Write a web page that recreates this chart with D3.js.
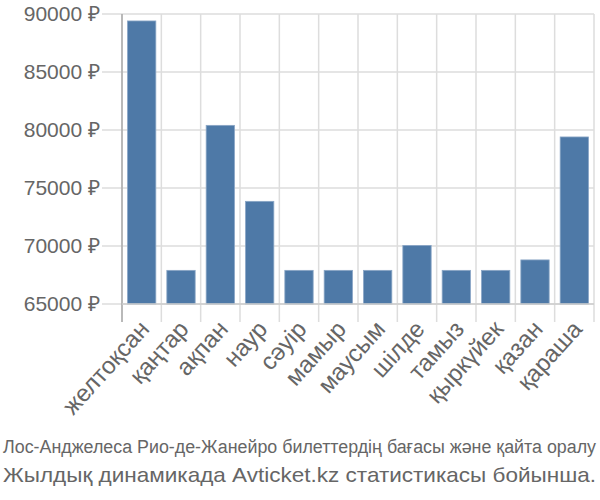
<!DOCTYPE html>
<html>
<head>
  <meta charset="utf-8">
  <script src="https://d3js.org/d3.v7.min.js"></script>
  <style>
    body { margin: 0; background: #fff; }
    svg { font-family: "Liberation Sans", Arial, sans-serif; }
    .tick text { fill: #666; }
    .caption { fill: #666; }
  </style>
</head>
<body>
  <svg id="chart"></svg>

  <script>
    // Data
    const months = ["желтоқсан", "қаңтар", "ақпан", "наур", "сәуір", "мамыр",
                    "маусым", "шілде", "тамыз", "қыркүйек", "қазан", "қараша"];
    const prices = [89400, 67900, 80400, 73850, 67900, 67900,
                    67900, 70050, 67900, 67900, 68800, 79400];
    const yTicks = [65000, 70000, 75000, 80000, 85000, 90000];
    const captionLines = [
      "Лос-Анджелеса Рио-де-Жанейро билеттердің бағасы және қайта оралу",
      "Жылдық динамикада Avticket.kz статистикасы бойынша."
    ];

    const width = 600, height = 500;
    const margin = { top: 14, right: 6, bottom: 196, left: 122 };
    const innerW = width - margin.left - margin.right;
    const innerH = height - margin.top - margin.bottom;

    const svg = d3.select("#chart")
                  .attr("width", width)
                  .attr("height", height);

    const g = svg.append("g")
                 .attr("transform", `translate(${margin.left},${margin.top})`);

    const x = d3.scaleBand()
                .domain(months)
                .range([0, innerW])
                .paddingInner(0.28)
                .paddingOuter(0.14);

    const y = d3.scaleLinear()
                .domain([65000, 90000])
                .range([innerH, 0]);

    const step = x.step();
    const boundaries = d3.range(months.length + 1).map(i => i * step);

    // Vertical grid lines (category boundaries), extend below axis as ticks
    g.append("g")
     .selectAll("line")
     .data(boundaries)
     .join("line")
     .attr("x1", d => d).attr("x2", d => d)
     .attr("y1", 0).attr("y2", innerH + 18)
     .attr("stroke", "#ddd")
     .attr("stroke-width", 1.5);

    // Horizontal grid lines
    g.append("g")
     .selectAll("line")
     .data(yTicks)
     .join("line")
     .attr("x1", -20).attr("x2", innerW)
     .attr("y1", d => y(d)).attr("y2", d => y(d))
     .attr("stroke", "#ddd")
     .attr("stroke-width", 1.5);

    // Bars
    g.selectAll("rect")
     .data(months)
     .join("rect")
     .attr("x", d => x(d))
     .attr("y", (d, i) => y(prices[i]))
     .attr("width", x.bandwidth())
     .attr("height", (d, i) => innerH - y(prices[i]))
     .attr("fill", "#4e79a7")
     .attr("stroke", "#8aa6c6")
     .attr("stroke-width", 0.8);

    // Y axis
    const yAxis = g.append("g")
      .call(d3.axisLeft(y).tickValues(yTicks).tickSize(0).tickPadding(22)
              .tickFormat(d => d + " ₽"));
    yAxis.select(".domain").remove();
    yAxis.selectAll("text").style("font-size", "21px");

    // Y axis line
    g.append("line")
     .attr("x1", 0).attr("x2", 0)
     .attr("y1", 0).attr("y2", innerH + 18)
     .attr("stroke", "#aaa")
     .attr("stroke-width", 1.5);

    // Bottom baseline
    g.append("line")
     .attr("x1", 0).attr("x2", innerW)
     .attr("y1", innerH).attr("y2", innerH)
     .attr("stroke", "#ccc")
     .attr("stroke-width", 1.5);

    // X axis labels
    const xAxis = g.append("g")
      .attr("transform", `translate(0,${innerH})`)
      .call(d3.axisBottom(x).tickSize(0).tickPadding(0));
    xAxis.select(".domain").remove();
    xAxis.selectAll("text")
      .style("font-size", "24px")
      .attr("text-anchor", "end")
      .attr("dy", null)
      .attr("transform", "translate(9,26) rotate(-48)");

    // Caption
    svg.selectAll(".caption")
       .data(captionLines)
       .join("text")
       .attr("class", "caption")
       .attr("x", 3)
       .attr("y", (d, i) => 453 + i * 29)
       .attr("textLength", 593)
       .attr("lengthAdjust", "spacingAndGlyphs")
       .style("font-size", (d, i) => i === 0 ? "18px" : "21px")
       .text(d => d);
  </script>
</body>
</html>
